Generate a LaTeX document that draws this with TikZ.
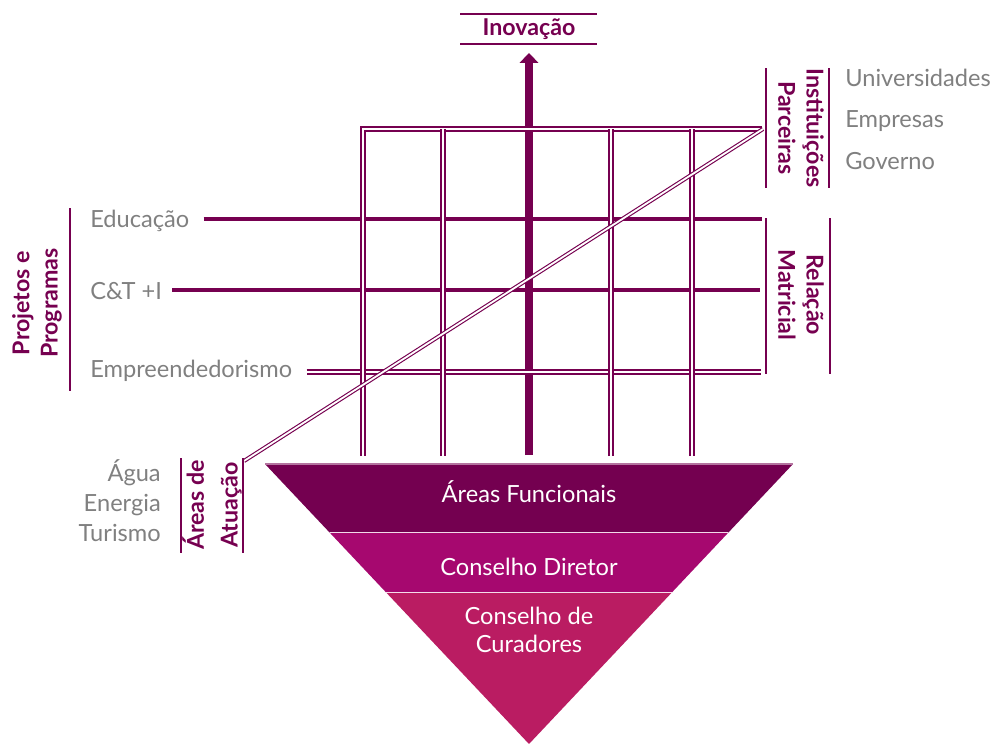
\documentclass[tikz,border=0pt]{standalone}
\usepackage{fontspec}
\setmainfont{Lato}
\usetikzlibrary{arrows.meta,calc}

\definecolor{roxo}{HTML}{760050}
\definecolor{corFuncionais}{HTML}{740050}
\definecolor{corDiretor}{HTML}{A6086F}
\definecolor{corCuradores}{HTML}{BA1C62}
\definecolor{cinza}{HTML}{808080}

\tikzset{
  linhagrossa/.style={line width=0.1cm, draw=roxo},
  linhadupla/.style={line width=1.3pt, double=white, double distance=1.2pt, draw=roxo},
  linhadiagonal/.style={line width=0.8pt, double=white, double distance=1.3pt, draw=roxo},
  linhafina/.style={line width=1.2pt, draw=roxo},
  rotulo/.style={font=\fontsize{16.8}{20}\selectfont, text=cinza, inner sep=0pt},
  titulo/.style={font=\fontsize{16.5}{20}\selectfont\bfseries, text=roxo, inner sep=0pt, align=center},
  faixa/.style={font=\fontsize{16.8}{19.5}\selectfont, text=white, inner sep=0pt, align=center},
}

\begin{document}
\begin{tikzpicture}[x=0.025cm, y=-0.025cm]
  \useasboundingbox (0,0) rectangle (996,744);

  % Pontos da grade
  \coordinate (educFim) at (762,218.5);
  \coordinate (ctiFim) at (760,290);
  \coordinate (emprFim) at (761,372);
  \coordinate (gradeNO) at (363,129);
  \coordinate (gradeNE) at (762,129);
  \coordinate (diagIni) at (244,461);
  \coordinate (diagFim) at (763,129);
  \coordinate (setaBase) at (529,455);
  \coordinate (setaTopo) at (529,53);

  % Rotulos dos projetos
  \node[rotulo, anchor=base west] (educ) at (90,227) {Educação};
  \node[rotulo, anchor=base west] (cti) at (90,299) {C\&T +I};
  \node[rotulo, anchor=base west] (empr) at (90,377) {Empreendedorismo};

  % Linhas grossas dos projetos
  \draw[linhagrossa, shorten <=10pt] (educ.east |- educFim) -- (educFim);
  \draw[linhagrossa, shorten <=7pt] (cti.east |- ctiFim) -- (ctiFim);

  % Seta Inovacao
  \draw[linhagrossa, line width=5pt, -{Triangle[width=13pt,length=7pt]}] (setaBase) -- (setaTopo);

  % Linha dupla Empreendedorismo
  \draw[linhadupla, shorten <=10pt] (empr.east |- emprFim) -- (emprFim);

  % Linhas verticais duplas
  \draw[linhadupla] (363,456) -- (gradeNO) -- (gradeNE);
  \foreach \x in {443,611,692}
    \draw[linhadupla] (\x,456) -- (\x,129);

  % Diagonal dupla
  \draw[linhadiagonal] (diagIni) -- (diagFim);

  % Inovacao
  \node[titulo, anchor=base] (inovacao) at (529,35) {Inovação};
  \draw[linhafina] (460,14) -- (597,14);
  \draw[linhafina] (460,44) -- (597,44);

  % Instituicoes Parceiras
  \draw[linhafina] (766,68) -- (766,188);
  \draw[linhafina] (829,68) -- (829,188);
  \node[titulo, rotate=-90] (parceiras) at (801,128) {Instituições\\Parceiras};
  \node[rotulo, anchor=base west] (univ) at (845,86) {Universidades};
  \node[rotulo, anchor=base west] (empresas) at (845,127) {Empresas};
  \node[rotulo, anchor=base west] (governo) at (845,169) {Governo};

  % Relacao Matricial
  \draw[linhafina] (766,218) -- (766,374);
  \draw[linhafina] (830,218) -- (830,374);
  \node[titulo, rotate=-90] (matricial) at (801,295) {Relação\\Matricial};

  % Projetos e Programas
  \draw[linhafina] (70,208) -- (70,391);
  \node[titulo, rotate=90] (projetos) at (37,303) {Projetos e\\Programas};

  % Areas de Atuacao
  \draw[linhafina] (181,458) -- (181,553);
  \draw[linhafina] (243,458) -- (243,553);
  \node[titulo, rotate=90, font=\fontsize{16.5}{24}\selectfont\bfseries] (atuacao) at (212,505) {Áreas de\\Atuação};
  \node[rotulo, anchor=base east] (agua) at (161,481) {Água};
  \node[rotulo, anchor=base east] (energia) at (161,511) {Energia};
  \node[rotulo, anchor=base east] (turismo) at (161,541) {Turismo};

  % Triangulo
  \coordinate (triA) at (265,464);
  \coordinate (triB) at (793,464);
  \coordinate (triC) at (529,744);
  \coordinate (sepAe) at ($(triA)!0.2446!(triC)$);
  \coordinate (sepAd) at ($(triB)!0.2446!(triC)$);
  \coordinate (sepBe) at ($(triA)!0.4589!(triC)$);
  \coordinate (sepBd) at ($(triB)!0.4589!(triC)$);
  \fill[corCuradores] (sepBe) -- (sepBd) -- (triC) -- cycle;
  \fill[corDiretor] (sepAe) -- (sepAd) -- (sepBd) -- (sepBe) -- cycle;
  \fill[corFuncionais] (triA) -- (triB) -- (sepAd) -- (sepAe) -- cycle;
  \draw[line width=0.8pt, roxo!55!white] (triA) -- (triB);
  \draw[line width=1pt, white!85!corDiretor] (sepAe) -- (sepAd);
  \draw[line width=1pt, white!85!corCuradores] (sepBe) -- (sepBd);

  % Textos do triangulo
  \node[faixa, anchor=base] (funcionais) at (529,502) {Áreas Funcionais};
  \node[faixa, anchor=base] (diretor) at (529,575) {Conselho Diretor};
  \node[faixa, anchor=base] (curadores) at (529,652) {Conselho de\\Curadores};
\end{tikzpicture}
\end{document}
